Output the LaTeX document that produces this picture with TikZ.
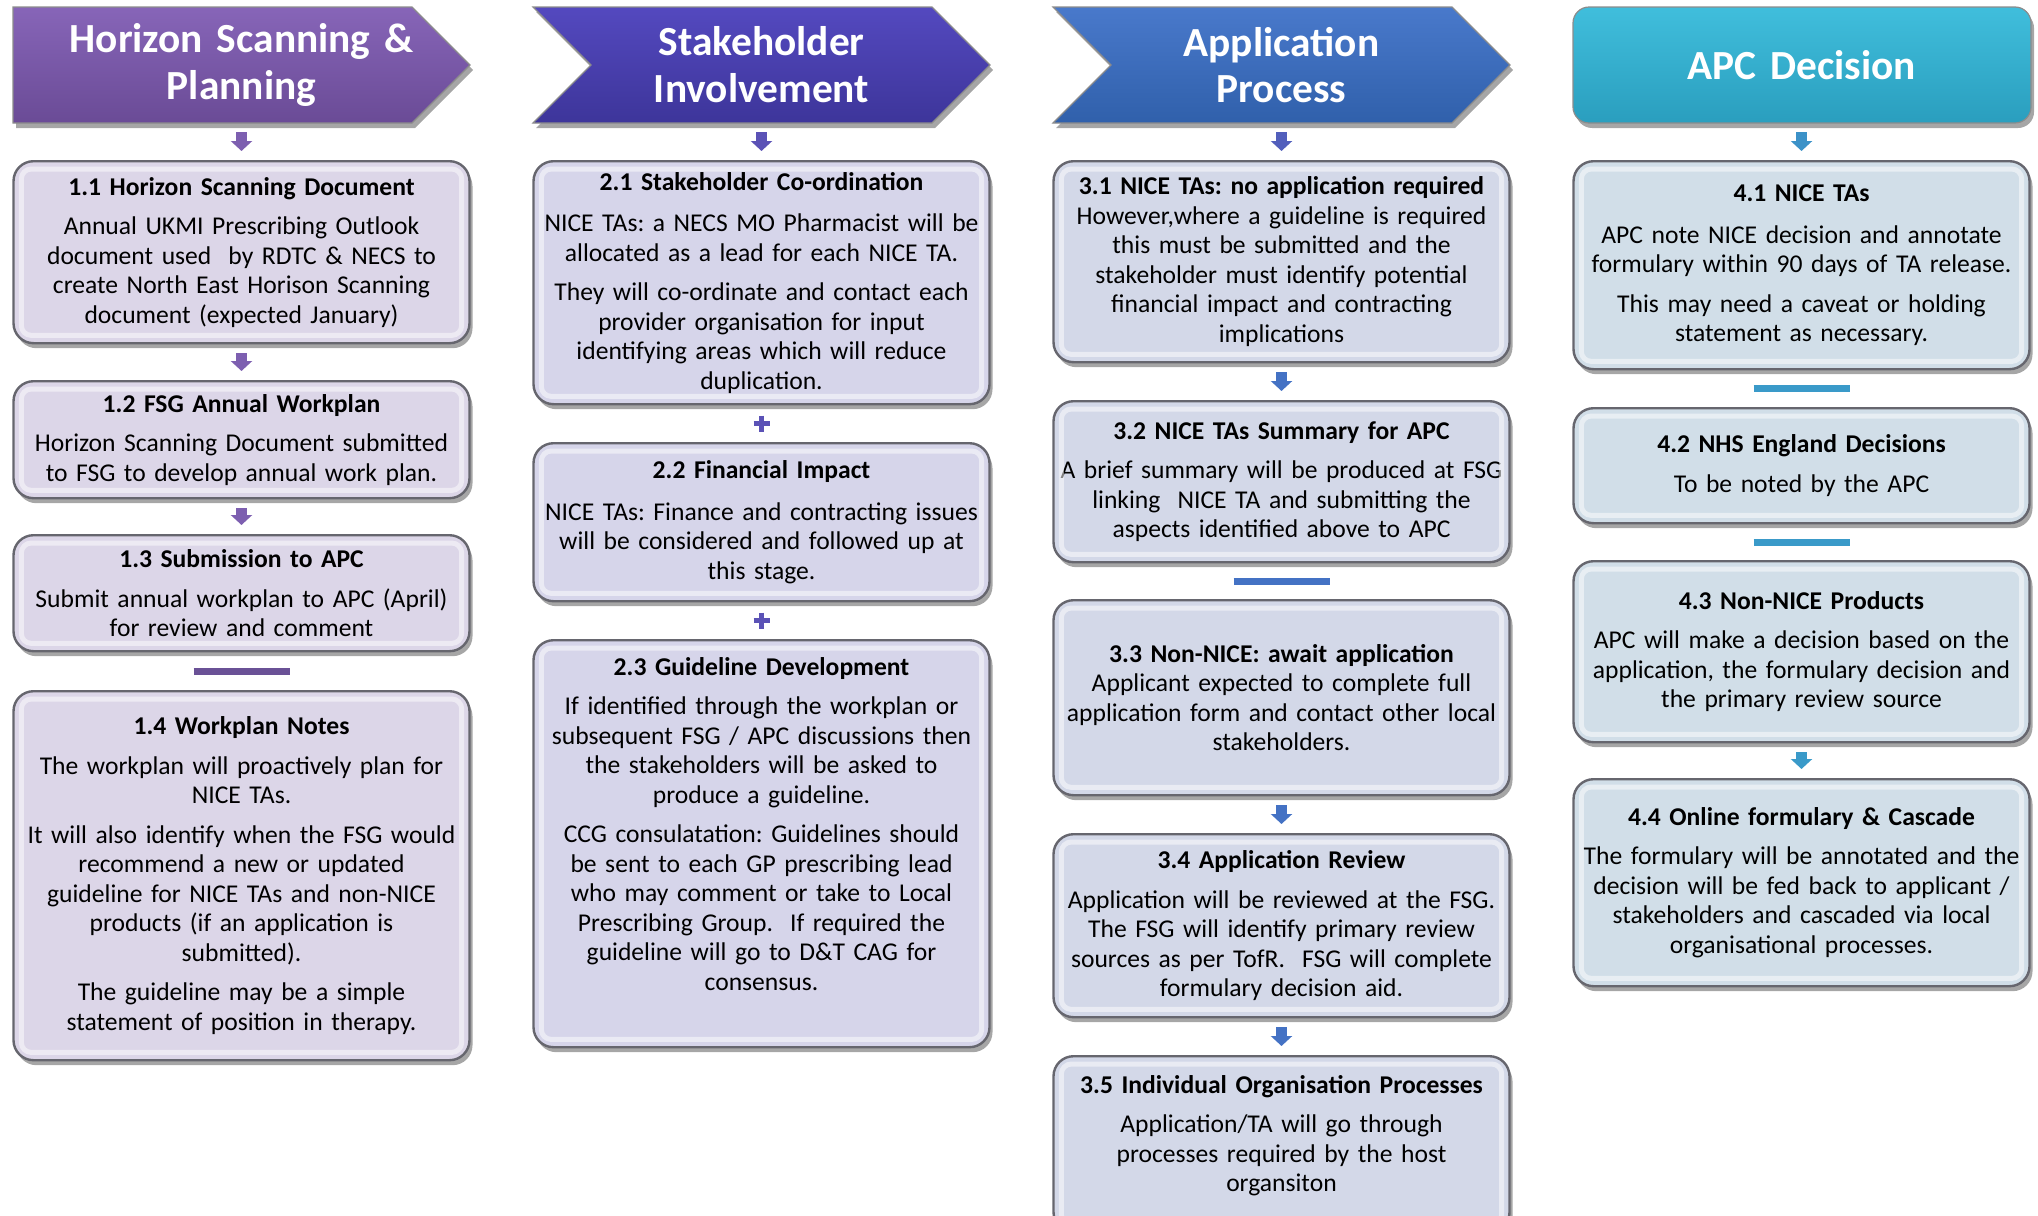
\documentclass[tikz,border=0pt]{standalone}
\usepackage{fontspec}
\setmainfont{Carlito}
\usetikzlibrary{arrows.meta,calc,shadows}

\definecolor{hdA1}{HTML}{8765B8}\definecolor{hdA2}{HTML}{6A4B96}
\definecolor{hdB1}{HTML}{5449BF}\definecolor{hdB2}{HTML}{3D359A}
\definecolor{hdC1}{HTML}{4979CB}\definecolor{hdC2}{HTML}{3060AB}
\definecolor{hdD1}{HTML}{40BEDC}\definecolor{hdD2}{HTML}{2A9EBE}
\definecolor{fillA}{HTML}{DCD6E8}
\definecolor{fillB}{HTML}{D6D5EA}
\definecolor{fillC}{HTML}{D3D8E8}
\definecolor{fillD}{HTML}{D1DEE8}
\definecolor{arrA}{HTML}{7D5FB0}
\definecolor{arrB}{HTML}{5B52B6}
\definecolor{arrC}{HTML}{4472C4}
\definecolor{arrD}{HTML}{3A9AC9}
\definecolor{boxline}{HTML}{66666E}

\newcommand{\bodyfont}{\fontsize{12.8}{14.75}\selectfont}
\newcommand{\headfont}{\fontsize{20.7}{23.4}\selectfont\bfseries}
\newcommand{\ttl}[1]{\textbf{#1}}
\frenchspacing

\tikzset{
  box/.style={rounded corners=10pt, draw=boxline, line width=1.2pt, text width=228pt,
    align=center, inner sep=0pt, font=\bodyfont, anchor=north,
    drop shadow={shadow xshift=1.5pt, shadow yshift=-2.5pt, opacity=.35, fill=black}},
  boxA/.style={box, fill=fillA},
  boxB/.style={box, fill=fillB},
  boxC/.style={box, fill=fillC},
  boxD/.style={box, fill=fillD},
  bevel/.style={white, opacity=.5, line width=2.5pt, rounded corners=5pt},
  head/.style={draw=black!45, line width=.6pt,
    drop shadow={shadow xshift=1.5pt, shadow yshift=-2.5pt, opacity=.35, fill=black}},
  htext/.style={minimum height=58pt, text width=210pt, align=center, inner sep=0pt,
    font=\headfont, text=white},
  blockarrow/.style={line width=5.5pt, shorten >=4.5pt, shorten <=4.5pt,
    -{Triangle[width=10.5pt,length=5pt]}},
  sepbar/.style={line width=3.5pt},
  plusmark/.style={line width=2.6pt}
}

\begin{document}
\begin{tikzpicture}[x=0.5pt, y=-0.5pt]
  \clip (0,0) rectangle (2038,1215);

  % headers
  \shade[head, top color=hdA1, bottom color=hdA2]
    (13,7) -- (412,7) -- (470,65) -- (412,123) -- (13,123) -- cycle;
  \shade[head, top color=hdB1, bottom color=hdB2]
    (533,7) -- (932,7) -- (990,65) -- (932,123) -- (533,123) -- (591,65) -- cycle;
  \shade[head, top color=hdC1, bottom color=hdC2]
    (1053,7) -- (1452,7) -- (1510,65) -- (1452,123) -- (1053,123) -- (1111,65) -- cycle;
  \shade[head, top color=hdD1, bottom color=hdD2, rounded corners=8pt]
    (1573,7) rectangle (2031,123);

  \node[htext] (h1) at (241.5,65) {Horizon Scanning \&\\Planning};
  \node[htext] (h2) at (761.5,65) {Stakeholder\\Involvement};
  \node[htext] (h3) at (1281.5,65) {Application\\Process};
  \node[htext] (h4) at (1801.5,65) {APC Decision};

  % column 1
  \node[boxA, minimum height=91pt] (b11) at (241.5,160)
    {\ttl{1.1 Horizon Scanning Document}\\[5pt]
     Annual UKMI Prescribing Outlook\\document used\ \ by RDTC \& NECS to\\create North East Horison Scanning\\document (expected January)};
  \node[boxA, minimum height=58.5pt] (b12) at (241.5,380)
    {\ttl{1.2 FSG Annual Workplan}\\[5pt]
     Horizon Scanning Document submitted\\to FSG to develop annual work plan.};
  \node[boxA, minimum height=58pt] (b13) at (241.5,534)
    {\ttl{1.3 Submission to APC}\\[5pt]
     Submit annual workplan to APC (April)\\for review and comment};
  \node[boxA, minimum height=184.5pt] (b14) at (241.5,690)
    {\ttl{1.4 Workplan Notes}\\[5pt]
     The workplan will proactively plan for\\NICE TAs.\\[5pt]
     It will also identify when the FSG would\\recommend a new or updated\\guideline for NICE TAs and non-NICE\\products (if an application is\\submitted).\\[5pt]
     The guideline may be a simple\\statement of position in therapy.};

  % column 2
  \node[boxB, minimum height=121.5pt] (b21) at (761.5,160)
    {\ttl{2.1 Stakeholder Co-ordination}\\[6pt]
     NICE TAs: a NECS MO Pharmacist will be\\allocated as a lead for each NICE TA.\\[5pt]
     They will co-ordinate and contact each\\provider organisation for input\\identifying areas which will reduce\\duplication.};
  \node[boxB, minimum height=79pt] (b22) at (761.5,442)
    {\ttl{2.2 Financial Impact}\\[6pt]
     NICE TAs: Finance and contracting issues\\will be considered and followed up at\\this stage.};
  \node[boxB, minimum height=203.5pt] (b23) at (761.5,639)
    {\ttl{2.3 Guideline Development}\\[5pt]
     If identified through the workplan or\\subsequent FSG / APC discussions then\\the stakeholders will be asked to\\produce a guideline.\\[5pt]
     CCG consulatation: Guidelines should\\be sent to each GP prescribing lead\\who may comment or take to Local\\Prescribing Group.\ \ If required the\\guideline will go to D\&T CAG for\\consensus.\\[5pt]\mbox{}};

  % column 3
  \node[boxC, minimum height=100.5pt] (b31) at (1281.5,160)
    {\ttl{3.1 NICE TAs: no application required}\\
     However,where a guideline is required\\this must be submitted and the\\stakeholder must identify potential\\financial impact and contracting\\implications};
  \node[boxC, minimum height=80.5pt] (b32) at (1281.5,400)
    {\ttl{3.2 NICE TAs Summary for APC}\\[5pt]
     A brief summary will be produced at FSG\\linking\ \ NICE TA and submitting the\\aspects identified above to APC};
  \node[boxC, minimum height=97.5pt] (b33) at (1281.5,599)
    {\ttl{3.3 Non-NICE: await application}\\
     Applicant expected to complete full\\application form and contact other local\\stakeholders.};
  \node[boxC, minimum height=91.5pt] (b34) at (1281.5,833)
    {\ttl{3.4 Application Review}\\[5pt]
     Application will be reviewed at the FSG.\\The FSG will identify primary review\\sources as per TofR.\ \ FSG will complete\\formulary decision aid.};
  \node[boxC, minimum height=88pt] (b35) at (1281.5,1055)
    {\ttl{3.5 Individual Organisation Processes}\\[5pt]
     Application/TA will go through\\processes required by the host\\organsiton\\[-4pt]\mbox{}};

  % column 4
  \node[boxD, minimum height=104pt] (b41) at (1801.5,160)
    {\ttl{4.1 NICE TAs}\\[6pt]
     APC note NICE decision and annotate\\formulary within 90 days of TA release.\\[5pt]
     This may need a caveat or holding\\statement as necessary.};
  \node[boxD, minimum height=57.5pt] (b42) at (1801.5,407)
    {\ttl{4.2 NHS England Decisions}\\[5pt]
     To be noted by the APC};
  \node[boxD, minimum height=90.5pt] (b43) at (1801.5,560)
    {\ttl{4.3 Non-NICE Products}\\[5pt]
     APC will make a decision based on the\\application, the formulary decision and\\the primary review source};
  \node[boxD, minimum height=103.5pt] (b44) at (1801.5,778)
    {\ttl{4.4 Online formulary \& Cascade}\\[5pt]
     The formulary will be annotated and the\\decision will be fed back to applicant /\\stakeholders and cascaded via local\\organisational processes.};

  % bevel edges
  \foreach \n in {b11,b12,b13,b14,b21,b22,b23,b31,b32,b33,b34,b35,b41,b42,b43,b44}
    \draw[bevel] ([shift={(4.5pt,-4.5pt)}]\n.north west) rectangle ([shift={(-4.5pt,4.5pt)}]\n.south east);

  % links column 1
  \draw[blockarrow, arrA] (h1) -- (b11);
  \draw[blockarrow, arrA] (b11) -- (b12);
  \draw[blockarrow, arrA] (b12) -- (b13);
  \draw[sepbar, arrA!85!black] ($(b13.south)!.5!(b14.north)$) +(-48,0) -- +(48,0);

  % links column 2
  \draw[blockarrow, arrB] (h2) -- (b21);
  \coordinate (p1) at ($(b21.south)!.5!(b22.north)$);
  \coordinate (p2) at ($(b22.south)!.5!(b23.north)$);
  \draw[plusmark, arrB] (p1) +(-8,0) -- +(8,0) +(0,-8) -- +(0,8);
  \draw[plusmark, arrB] (p2) +(-8,0) -- +(8,0) +(0,-8) -- +(0,8);

  % links column 3
  \draw[blockarrow, arrB!60!arrC] (h3) -- (b31);
  \draw[blockarrow, arrC] (b31) -- (b32);
  \draw[sepbar, arrC] ($(b32.south)!.5!(b33.north)$) +(-48,0) -- +(48,0);
  \draw[blockarrow, arrC] (b33) -- (b34);
  \draw[blockarrow, arrC] (b34) -- (b35);

  % links column 4
  \draw[blockarrow, arrD!80!arrC] (h4) -- (b41);
  \draw[sepbar, arrD] ($(b41.south)!.5!(b42.north)$) +(-48,0) -- +(48,0);
  \draw[sepbar, arrD] ($(b42.south)!.5!(b43.north)$) +(-48,0) -- +(48,0);
  \draw[blockarrow, arrD] (b43) -- (b44);
\end{tikzpicture}
\end{document}
